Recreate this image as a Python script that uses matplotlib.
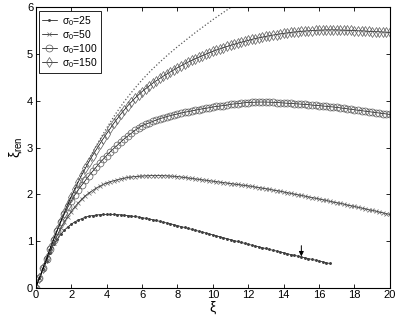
import numpy as np
import matplotlib
matplotlib.use('Agg')
import matplotlib.pyplot as plt

plt.rcParams['font.family'] = ['Liberation Sans', 'DejaVu Sans']
plt.rcParams['mathtext.fontset'] = 'custom'
plt.rcParams['mathtext.rm'] = 'Liberation Sans'
plt.rcParams['mathtext.it'] = 'Liberation Sans'

# sampling grid of the curves (step 0.2)
xi = np.round(np.arange(0, 20.001, 0.2), 2)

xi_ren_25 = [0, 0.2, 0.39, 0.57, 0.75, 0.93, 1.04, 1.14, 1.23, 1.3,
             1.36, 1.41, 1.45, 1.48, 1.51, 1.53, 1.545, 1.555, 1.563, 1.568,
             1.57, 1.57, 1.569, 1.565, 1.56, 1.553, 1.545, 1.535, 1.525, 1.513,
             1.5, 1.485, 1.47, 1.455, 1.44, 1.42, 1.4, 1.385, 1.37, 1.35,
             1.33, 1.31, 1.29, 1.27, 1.25, 1.23, 1.21, 1.19, 1.17, 1.15,
             1.13, 1.11, 1.09, 1.07, 1.05, 1.03, 1.01, 0.99, 0.97, 0.95,
             0.93, 0.91, 0.89, 0.875, 0.855, 0.84, 0.82, 0.8, 0.785, 0.765,
             0.75, 0.73, 0.71, 0.695, 0.675, 0.66, 0.64, 0.625, 0.605, 0.59,
             0.57, 0.555, 0.535, 0.52]

xi_ren_50 = [0, 0.2, 0.4, 0.59, 0.78, 0.96, 1.12, 1.27, 1.4, 1.52,
             1.63, 1.73, 1.82, 1.9, 1.97, 2.03, 2.08, 2.13, 2.17, 2.21,
             2.24, 2.27, 2.29, 2.31, 2.33, 2.345, 2.36, 2.37, 2.38, 2.385,
             2.39, 2.395, 2.398, 2.4, 2.4, 2.4, 2.398, 2.395, 2.39, 2.385,
             2.38, 2.37, 2.36, 2.35, 2.34, 2.33, 2.32, 2.31, 2.3, 2.29,
             2.28, 2.27, 2.26, 2.25, 2.24, 2.23, 2.22, 2.21, 2.2, 2.19,
             2.18, 2.17, 2.155, 2.145, 2.13, 2.12, 2.105, 2.09, 2.08, 2.065,
             2.05, 2.035, 2.02, 2.005, 1.99, 1.975, 1.96, 1.945, 1.93, 1.915,
             1.9, 1.885, 1.87, 1.85, 1.835, 1.82, 1.805, 1.79, 1.77, 1.755,
             1.74, 1.72, 1.705, 1.69, 1.67, 1.655, 1.64, 1.62, 1.605, 1.585,
             1.57]

xi_ren_100 = [0, 0.21, 0.42, 0.62, 0.83, 1.03, 1.22, 1.4, 1.57, 1.72,
              1.86, 1.99, 2.1, 2.2, 2.3, 2.4, 2.49, 2.58, 2.67, 2.75,
              2.83, 2.91, 2.98, 3.05, 3.12, 3.19, 3.25, 3.31, 3.37, 3.42,
              3.47, 3.5, 3.53, 3.56, 3.59, 3.62, 3.64, 3.665, 3.685, 3.705,
              3.72, 3.74, 3.755, 3.77, 3.785, 3.8, 3.815, 3.83, 3.84, 3.855,
              3.87, 3.88, 3.89, 3.9, 3.91, 3.925, 3.935, 3.94, 3.95, 3.96,
              3.965, 3.97, 3.972, 3.975, 3.975, 3.975, 3.972, 3.97, 3.965, 3.96,
              3.955, 3.95, 3.945, 3.94, 3.935, 3.93, 3.925, 3.92, 3.91, 3.905,
              3.9, 3.89, 3.885, 3.875, 3.87, 3.86, 3.85, 3.84, 3.83, 3.82,
              3.81, 3.8, 3.79, 3.78, 3.77, 3.76, 3.75, 3.74, 3.73, 3.72,
              3.71]

xi_ren_150 = [0, 0.21, 0.42, 0.63, 0.84, 1.04, 1.23, 1.42, 1.6, 1.78,
              1.95, 2.11, 2.27, 2.42, 2.56, 2.7, 2.83, 2.95, 3.07, 3.19,
              3.3, 3.41, 3.52, 3.62, 3.72, 3.81, 3.9, 3.98, 4.06, 4.13,
              4.2, 4.26, 4.32, 4.38, 4.43, 4.48, 4.53, 4.575, 4.62, 4.665,
              4.71, 4.75, 4.79, 4.83, 4.865, 4.9, 4.935, 4.965, 5.0, 5.03,
              5.06, 5.09, 5.115, 5.14, 5.165, 5.19, 5.21, 5.235, 5.255, 5.275,
              5.295, 5.315, 5.335, 5.35, 5.365, 5.38, 5.395, 5.41, 5.42, 5.435,
              5.445, 5.455, 5.465, 5.475, 5.48, 5.49, 5.495, 5.5, 5.505, 5.51,
              5.515, 5.515, 5.52, 5.52, 5.52, 5.52, 5.515, 5.515, 5.51, 5.51,
              5.505, 5.5, 5.5, 5.495, 5.49, 5.485, 5.48, 5.48, 5.475, 5.47,
              5.465]

# limiting curve (dotted)
xi_lim = [0, 0.5, 1, 1.5, 2, 2.5, 3, 3.5, 4, 4.5, 5, 5.5,
          6, 6.5, 7, 7.5, 8, 8.5, 9, 9.5, 10, 10.5, 11]
xi_ren_lim = [0, 0.52, 1.04, 1.52, 1.97, 2.38, 2.75, 3.1, 3.42, 3.72, 3.99, 4.23,
              4.45, 4.65, 4.83, 5.0, 5.16, 5.31, 5.46, 5.6, 5.74, 5.87, 6.0]

fig = plt.figure(figsize=(3.99, 3.17), dpi=100)
ax = fig.add_axes([0.09, 0.0924, 0.887, 0.884])

ax.plot(xi_lim, xi_ren_lim, ':', color='0.35', linewidth=0.9)
ax.plot(xi[:len(xi_ren_25)], xi_ren_25, '-', color='k', linewidth=0.5,
        marker='.', markersize=2.2, markeredgecolor='0.25', label='σ$_0$=25')
ax.plot(xi, xi_ren_50, '-', color='k', linewidth=0.5,
        marker='x', markersize=3.0, markeredgewidth=0.5, markeredgecolor='0.4',
        label='σ$_0$=50')
ax.plot(xi, xi_ren_100, '-', color='k', linewidth=0.5,
        marker='o', markersize=5, markerfacecolor='none', markeredgewidth=0.5,
        markeredgecolor='0.35', label='σ$_0$=100')
ax.plot(xi, xi_ren_150, '-', color='k', linewidth=0.5,
        marker='d', markersize=5, markerfacecolor='none', markeredgewidth=0.5,
        markeredgecolor='0.35', label='σ$_0$=150')

ax.annotate('', xy=(15, 0.67), xytext=(15, 0.9),
            arrowprops=dict(arrowstyle='-|>', color='k', lw=0.7,
                            mutation_scale=7, shrinkA=0, shrinkB=0))

ax.set_xlim(0, 20)
ax.set_ylim(0, 6)
ax.set_xticks(range(0, 21, 2))
ax.set_yticks(range(0, 7))
ax.tick_params(direction='in', top=True, right=True, labelsize=8, length=3, width=0.6, pad=2)
for s in ax.spines.values():
    s.set_linewidth(0.8)

ax.set_xlabel('ξ', fontsize=10, labelpad=0)
ax.set_ylabel('ξ$_{ren}$', fontsize=10, labelpad=2)

leg = ax.legend(loc='upper left', fontsize=7.5, fancybox=False, framealpha=1,
                edgecolor='k', handlelength=1.4, borderpad=0.3, labelspacing=0.02,
                handletextpad=0.5, borderaxespad=0.3)
leg.get_frame().set_linewidth(0.6)

fig.savefig('out.png', dpi=100)
